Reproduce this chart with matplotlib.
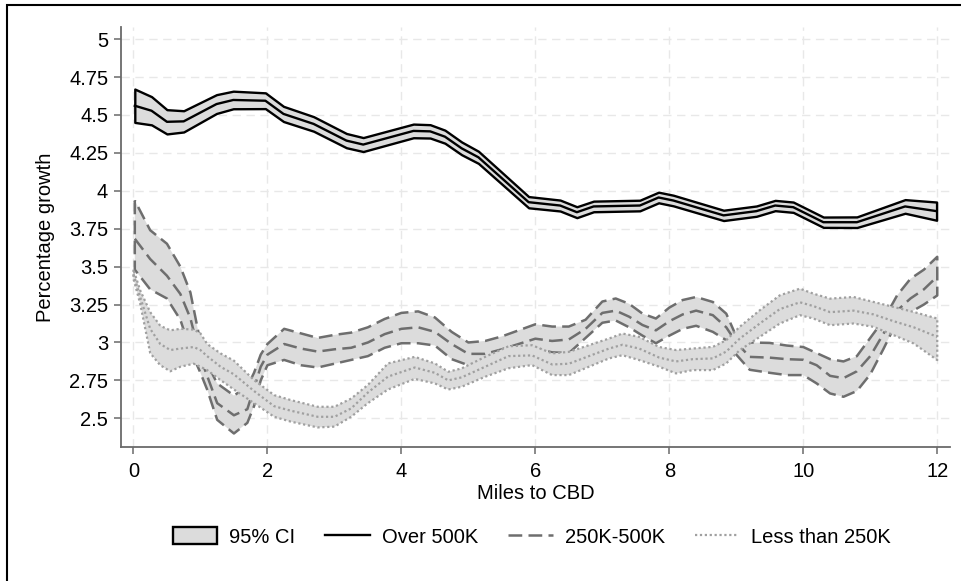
# Growth by distance to CBD, three price bands with 95% CI areas

import numpy as np
import matplotlib
matplotlib.use("Agg")
import matplotlib.pyplot as plt
from matplotlib.patches import Patch, Rectangle
from matplotlib.lines import Line2D

plt.rcParams['font.family'] = ['Liberation Sans', 'DejaVu Sans']
fs = 14.5

# Over 500K: mean and half-width of the CI
x_hi = [0.02, 0.27, 0.50, 0.75, 1.24, 1.49, 1.97, 2.24, 2.69, 3.18, 3.43, 4.18, 4.43, 4.65,
        4.90, 5.15, 5.90, 6.37, 6.62, 6.87, 7.56, 7.84, 8.06, 8.81, 9.30, 9.58, 9.85, 10.30,
        10.80, 11.52, 11.99]
m_hi = [4.561, 4.528, 4.455, 4.458, 4.572, 4.599, 4.594, 4.507, 4.441, 4.331, 4.305, 4.395,
        4.392, 4.357, 4.280, 4.221, 3.925, 3.903, 3.859, 3.897, 3.903, 3.956, 3.936, 3.838,
        3.866, 3.903, 3.892, 3.793, 3.793, 3.897, 3.866]
hw_hi = [0.11, 0.093, 0.08, 0.07, 0.062, 0.058, 0.052, 0.05, 0.048, 0.047, 0.046, 0.045,
         0.044, 0.043, 0.042, 0.04, 0.037, 0.036, 0.036, 0.035, 0.035, 0.035, 0.035, 0.034,
         0.034, 0.034, 0.034, 0.034, 0.035, 0.045, 0.06]

# 250K-500K
x_mid = [0.02, 0.25, 0.5, 0.7, 0.85, 1.0, 1.1, 1.25, 1.5, 1.7, 1.8, 1.9, 2.0, 2.25, 2.5, 2.75,
         3.0, 3.25, 3.5, 3.75, 4.0, 4.25, 4.5, 4.75, 5.0, 5.25, 5.5, 5.75, 6.0, 6.25, 6.5,
         6.75, 7.0, 7.2, 7.4, 7.6, 7.8, 8.0, 8.2, 8.4, 8.65, 8.85, 9.0, 9.2, 9.5, 9.75, 10.0,
         10.2, 10.4, 10.6, 10.8, 11.0, 11.2, 11.4, 11.6, 11.8, 12.0]
lo_mid = [3.48, 3.35, 3.29, 3.15, 2.95, 2.80, 2.69, 2.49, 2.40, 2.47, 2.58, 2.75, 2.85, 2.885,
          2.85, 2.835, 2.86, 2.885, 2.91, 2.965, 2.995, 2.995, 2.98, 2.89, 2.85, 2.86, 2.89,
          2.93, 2.96, 2.935, 2.93, 3.03, 3.13, 3.145, 3.10, 3.045, 2.995, 3.045, 3.09, 3.11,
          3.07, 3.015, 2.92, 2.82, 2.80, 2.785, 2.785, 2.73, 2.664, 2.642, 2.68, 2.79, 2.96,
          3.14, 3.20, 3.25, 3.31]
m_mid = [3.684, 3.55, 3.44, 3.32, 3.16, 2.90, 2.78, 2.60, 2.52, 2.56, 2.70, 2.84, 2.92, 2.99,
         2.96, 2.94, 2.955, 2.965, 3.00, 3.055, 3.09, 3.10, 3.07, 2.99, 2.925, 2.925, 2.955,
         2.99, 3.025, 3.01, 3.02, 3.09, 3.195, 3.21, 3.17, 3.115, 3.08, 3.14, 3.185, 3.21,
         3.18, 3.10, 3.00, 2.905, 2.90, 2.89, 2.886, 2.85, 2.78, 2.765, 2.81, 2.91, 3.06,
         3.21, 3.29, 3.35, 3.435]
up_mid = [3.936, 3.74, 3.651, 3.50, 3.33, 3.00, 2.86, 2.73, 2.65, 2.71, 2.80, 2.92, 2.99, 3.09,
          3.06, 3.03, 3.05, 3.065, 3.10, 3.155, 3.195, 3.205, 3.165, 3.07, 3.00, 3.01, 3.04,
          3.08, 3.12, 3.105, 3.105, 3.15, 3.27, 3.29, 3.255, 3.19, 3.158, 3.23, 3.28, 3.30,
          3.267, 3.19, 3.04, 3.00, 2.997, 2.98, 2.97, 2.93, 2.89, 2.875, 2.91, 3.03, 3.15,
          3.31, 3.42, 3.48, 3.565]

# Less than 250K
x_lo = [0.0, 0.1, 0.25, 0.4, 0.55, 0.7, 0.9, 1.0, 1.1, 1.3, 1.5, 1.8, 2.1, 2.35, 2.75, 3.0,
        3.25, 3.5, 3.8, 4.2, 4.5, 4.7, 4.9, 5.25, 5.6, 5.95, 6.25, 6.5, 6.8, 7.1, 7.3, 7.55,
        7.85, 8.1, 8.35, 8.65, 8.85, 9.05, 9.35, 9.65, 9.95, 10.15, 10.4, 10.75, 11.05, 11.35,
        11.65, 12.0]
lo_lo = [3.42, 3.257, 2.93, 2.85, 2.81, 2.84, 2.86, 2.84, 2.818, 2.752, 2.69, 2.60, 2.51, 2.478,
         2.44, 2.445, 2.51, 2.60, 2.69, 2.76, 2.73, 2.69, 2.708, 2.774, 2.83, 2.851, 2.785,
         2.785, 2.84, 2.895, 2.916, 2.884, 2.84, 2.796, 2.818, 2.818, 2.862, 2.949, 3.037,
         3.125, 3.18, 3.158, 3.114, 3.125, 3.103, 3.048, 2.993, 2.884]
m_lo = [3.45, 3.30, 3.09, 2.99, 2.95, 2.96, 2.97, 2.95, 2.91, 2.84, 2.79, 2.68, 2.58, 2.55,
        2.51, 2.51, 2.565, 2.67, 2.775, 2.835, 2.80, 2.75, 2.77, 2.84, 2.91, 2.915, 2.855,
        2.86, 2.91, 2.96, 2.985, 2.96, 2.90, 2.875, 2.89, 2.895, 2.94, 3.025, 3.125, 3.22,
        3.265, 3.24, 3.20, 3.21, 3.185, 3.14, 3.10, 3.037]
up_lo = [3.48, 3.344, 3.20, 3.11, 3.08, 3.09, 3.085, 3.06, 2.99, 2.928, 2.88, 2.752, 2.653, 2.62,
         2.576, 2.576, 2.63, 2.72, 2.862, 2.905, 2.862, 2.807, 2.829, 2.905, 2.975, 2.982,
         2.928, 2.938, 2.982, 3.026, 3.059, 3.037, 2.97, 2.95, 2.96, 2.971, 3.015, 3.103,
         3.212, 3.311, 3.355, 3.322, 3.289, 3.30, 3.267, 3.234, 3.201, 3.158]

x_ticks = [0, 2, 4, 6, 8, 10, 12]
y_ticks = [2.5, 2.75, 3, 3.25, 3.5, 3.75, 4, 4.25, 4.5, 4.75, 5]
y_labels = ["2.5", "2.75", "3", "3.25", "3.5", "3.75", "4", "4.25", "4.5", "4.75", "5"]

band = "#dcdcdc"
dash_c = "#6e6e6e"
dot_c = "#a0a0a0"
dash_ls = (0, (5.5, 2.5))
dot_ls = (0, (1, 1.2))

fig = plt.figure(figsize=(9.62, 5.81), dpi=100)
ax = fig.add_axes([0.1255, 0.2312, 0.862, 0.7223])

# over 500K
x_hi = np.array(x_hi)
m_hi = np.array(m_hi)
hw_hi = np.array(hw_hi)
ax.fill_between(x_hi, m_hi - hw_hi, m_hi + hw_hi, facecolor=band, edgecolor="black",
                linewidth=1.7, zorder=3)
ax.plot(x_hi, m_hi, color="black", lw=1.7, zorder=4)

# 250K-500K
ax.fill_between(x_mid, lo_mid, up_mid, facecolor=band, edgecolor=dash_c, linewidth=1.8,
                linestyle=dash_ls, zorder=3)
ax.plot(x_mid, m_mid, color=dash_c, lw=1.8, linestyle=dash_ls, zorder=3)

# less than 250K, drawn above the dashed band
ax.fill_between(x_lo, lo_lo, up_lo, facecolor=band, edgecolor=dot_c, linewidth=1.6,
                linestyle=dot_ls, zorder=3)
ax.plot(x_lo, m_lo, color=dot_c, lw=1.6, linestyle=dot_ls, zorder=3)

ax.set_xlim(-0.19, 12.19)
ax.set_ylim(2.313, 5.08)
ax.set_xticks(x_ticks)
ax.set_yticks(y_ticks)
ax.set_yticklabels(y_labels)
ax.grid(True, color="#e8e8e8", linestyle=(0, (6, 4)), linewidth=1.0, zorder=0)
ax.set_axisbelow(True)

for s in ["top", "right"]:
    ax.spines[s].set_visible(False)
for s in ["left", "bottom"]:
    ax.spines[s].set_color("#6a6a6a")
    ax.spines[s].set_linewidth(1.3)
ax.tick_params(axis="both", colors="#6a6a6a", length=5, width=1.1, labelsize=fs,
               labelcolor="black")
ax.tick_params(axis="y", pad=4)
ax.tick_params(axis="x", pad=6)

ax.set_xlabel("Miles to CBD", fontsize=fs, labelpad=2)
ax.set_ylabel("Percentage growth", fontsize=fs, labelpad=10)

handles = [Patch(facecolor=band, edgecolor="black", linewidth=1.7),
           Line2D([], [], color="black", lw=1.7),
           Line2D([], [], color=dash_c, lw=1.8, linestyle=dash_ls),
           Line2D([], [], color=dot_c, lw=1.6, linestyle=dot_ls)]
labels = ["95% CI", "Over 500K", "250K-500K", "Less than 250K"]
fig.legend(handles, labels, loc="center", bbox_to_anchor=(0.553, 0.076), ncol=4,
           frameon=False, fontsize=fs, handlelength=2.2, handleheight=0.95,
           handletextpad=0.6, columnspacing=1.5)

# outer frame, cut off on the right and bottom like the source image
fig.add_artist(Rectangle((7 / 962, -0.05), 1.1, 1.05 - 5 / 581, transform=fig.transFigure,
                         fill=False, edgecolor="black", linewidth=1.5, clip_on=False))

fig.savefig("out.png", dpi=100)
